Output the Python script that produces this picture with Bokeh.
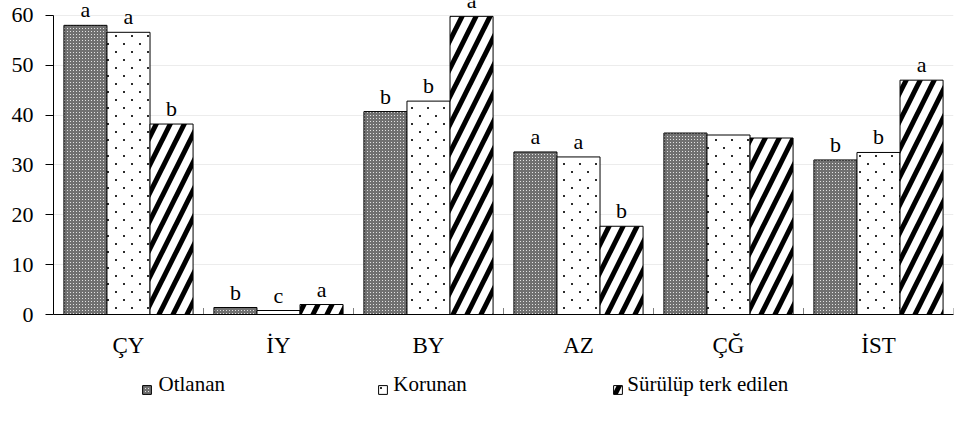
import zlib, struct, base64
from bokeh.plotting import figure
from bokeh.layouts import column
from bokeh.models import (ColumnDataSource, FactorRange, Range1d, Legend, LegendItem,
                          FixedTicker, ImageURLTexture)
from bokeh.transform import dodge
from bokeh.core.properties import value
from bokeh.embed import file_html
from bokeh.resources import INLINE

categories = ["ÇY", "İY", "BY", "AZ", "ÇĞ", "İST"]
series_names = ["Otlanan", "Korunan", "Sürülüp terk edilen"]
otlanan = [58.0, 1.4, 40.7, 32.6, 36.4, 31.0]
korunan = [56.6, 0.8, 42.8, 31.6, 36.0, 32.5]
surulup = [38.2, 2.0, 59.8, 17.7, 35.4, 47.0]
otlanan_letters = ["a", "b", "b", "a", "", "b"]
korunan_letters = ["a", "c", "b", "a", "", "b"]
surulup_letters = ["b", "a", "a", "b", "", "a"]
y_ticks = [0, 10, 20, 30, 40, 50, 60]

FONT = "Liberation Serif"


def png_uri(rows):
    h, w = len(rows), len(rows[0])
    raw = b"".join(b"\x00" + bytes([c for px in row for c in px]) for row in rows)

    def chunk(t, d):
        return struct.pack(">I", len(d)) + t + d + struct.pack(">I", zlib.crc32(t + d) & 0xffffffff)

    png = (b"\x89PNG\r\n\x1a\n" + chunk(b"IHDR", struct.pack(">IIBBBBB", w, h, 8, 2, 0, 0, 0))
           + chunk(b"IDAT", zlib.compress(raw)) + chunk(b"IEND", b""))
    return "data:image/png;base64," + base64.b64encode(png).decode()


# fine grey grain tile
g_dark, g_light = (112, 112, 112), (226, 226, 226)
grain_rows = [[g_dark] * 3 for _ in range(3)]
grain_rows[1][1] = g_light
grain = ImageURLTexture(url=png_uri(grain_rows))

# sparse staggered dot tile
W, Dk = (255, 255, 255), (45, 45, 45)
dot_rows = [[W] * 16 for _ in range(16)]
for (cx, cy) in [(3, 3), (11, 11)]:
    for dx in (0, 1):
        for dy in (0, 1):
            dot_rows[cy + dy][cx + dx] = Dk
dots = ImageURLTexture(url=png_uri(dot_rows))

src = ColumnDataSource(dict(
    cat=categories, otlanan=otlanan, korunan=korunan, surulup=surulup,
    l_ot=otlanan_letters, l_ko=korunan_letters, l_su=surulup_letters,
    zero=[0] * len(categories), tick=[1.3] * len(categories),
))

p = figure(width=954, height=360, x_range=FactorRange(*categories),
           y_range=Range1d(0, 62.98), output_backend="svg", toolbar_location=None,
           min_border_left=53, min_border_right=1, min_border_top=0, min_border_bottom=43)
p.outline_line_color = None
p.background_fill_color = "white"

bw = 0.287
styles = [
    dict(fill_color="#7f7f7f", hatch_pattern=value("G"), hatch_extra={"G": grain}),
    dict(fill_color="white", hatch_pattern=value("D"), hatch_extra={"D": dots}),
    dict(fill_color="white", hatch_pattern="right_diagonal_line", hatch_scale=28, hatch_weight=5,
         hatch_color="black"),
]
cols = ["otlanan", "korunan", "surulup"]
lets = ["l_ot", "l_ko", "l_su"]
offs = [-bw, 0, bw]
for c, l, o, st in zip(cols, lets, offs, styles):
    p.vbar(x=dodge("cat", o, range=p.x_range), top=c, width=bw, source=src,
           line_color="black", line_width=1, **st)
    p.text(x=dodge("cat", o, range=p.x_range), y=c, text=l, source=src,
           text_font=value(FONT), text_font_size="22px", text_align="center",
           text_baseline="bottom", y_offset=-3, text_color="black")

# category boundary ticks on x axis
p.segment(x0=dodge("cat", 0.5, range=p.x_range), x1=dodge("cat", 0.5, range=p.x_range),
          y0="zero", y1="tick", source=src, line_color="#808080", line_width=1)

p.yaxis.ticker = FixedTicker(ticks=y_ticks)
p.yaxis.bounds = (0, 60)
p.yaxis.axis_line_color = "black"
p.yaxis.major_tick_out = 8
p.yaxis.major_tick_in = 0
p.yaxis.minor_tick_line_color = None
p.yaxis.major_label_text_font = FONT
p.yaxis.major_label_text_font_size = "22px"
p.yaxis.major_label_text_color = "black"
p.yaxis.major_label_standoff = 12

p.xaxis.axis_line_color = "black"
p.xaxis.major_tick_line_color = None
p.xaxis.major_label_text_font = FONT
p.xaxis.major_label_text_font_size = "23px"
p.xaxis.major_label_text_color = "black"
p.xaxis.major_label_standoff = 12

p.xgrid.grid_line_color = None
p.ygrid.ticker = FixedTicker(ticks=y_ticks)
p.ygrid.grid_line_color = "#ececec"
p.ygrid.bounds = (0, 60)

# legend strip (same bars, drawn against a range where they fall outside the frame)
leg = figure(width=954, height=63, x_range=p.x_range, y_range=Range1d(1000, 1001),
             x_axis_type=None, y_axis_type=None, output_backend="svg", toolbar_location=None,
             min_border=0)
leg.outline_line_color = None
leg_x = [88, 324, 559]
for c, o, st, lx in zip(cols, offs, styles, leg_x):
    r = leg.vbar(x=dodge("cat", o, range=p.x_range), top=c, width=bw, source=src,
                 line_color="black", line_width=1, **st)
    lg = Legend(items=[LegendItem(label=value(""), renderers=[r])], location=(lx, 28),
                label_text_font_size="1px", label_width=1, label_height=11,
                glyph_width=11, glyph_height=11, label_standoff=0,
                border_line_color=None, background_fill_alpha=0, padding=0, margin=0)
    leg.add_layout(lg)

# legend labels (serif), positioned in the strip's synthetic category coordinates
legend_label_x = [0.70, 2.265, 3.825]
legend_label_y = [1000.63] * 3
leg.text(x=legend_label_x, y=legend_label_y, text=series_names,
         text_font=value(FONT), text_font_size="21px", text_align="left",
         text_baseline="middle", text_color="black")

layout = column(p, leg, spacing=0)
open("out.html", "w").write(file_html(layout, INLINE))
